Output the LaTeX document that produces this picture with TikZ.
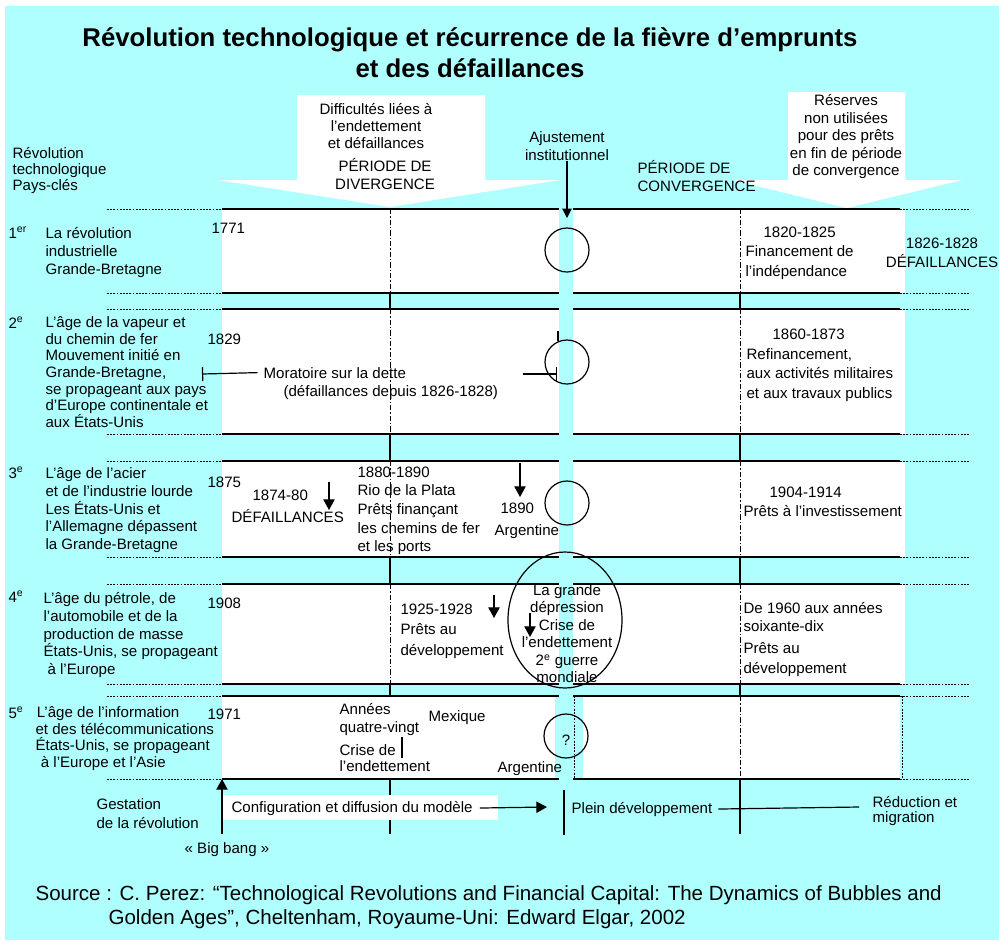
\documentclass[tikz,border=0pt]{standalone}
\usepackage{fontspec}
\setmainfont{Liberation Sans}
\usetikzlibrary{arrows.meta,positioning,calc}
\definecolor{fond}{RGB}{175,255,255}
\tikzset{
  txt/.style={inner sep=0pt,align=left,anchor=north west,font=\fontsize{11.3}{#1}\selectfont},
  txt/.default=13.3,
  ctr/.style={txt=#1,align=center,anchor=north},
  ctr/.default=13.3,
  one/.style={inner sep=0pt,anchor=base west,font=\fontsize{11.3}{13.3}\selectfont},
  fleche/.style={-{Triangle[width=8.5pt,length=8pt]}},
  pointille/.style={dash pattern=on 1.3pt off 1.1pt,line width=0.7pt},
  tiret/.style={dash pattern=on 4pt off 1.6pt on 0.8pt off 1.6pt,line width=0.7pt},
}
\begin{document}
\begin{tikzpicture}[x=0.75pt,y=-0.75pt,line width=0.9pt]
  \def\bande(#1,#2){
    \fill[white] (222,#1) rectangle (559,#2);
    \fill[white] (573,#1) rectangle (905,#2);
    \draw[tiret] (390,#1) -- (390,#2);
    \draw[tiret] (740,#1) -- (740,#2);
  }
  \def\bord(#1){
    \draw[pointille] (107,#1) -- (222,#1);
    \draw (222,#1) -- (559,#1) (573,#1) -- (900,#1);
    \draw[pointille] (900,#1) -- (970,#1);
  }
  \useasboundingbox (0,0) rectangle (999,940);
  \fill[fond] (5,6) rectangle (999,940);
  % grandes fleches du haut
  \fill[white] (297,95) -- (485,95) -- (485,180) -- (560,180) -- (390,207) -- (218,180) -- (297,180) -- cycle;
  \fill[white] (788,92) -- (905,92) -- (905,180) -- (962,180) -- (847,208) -- (732,180) -- (788,180) -- cycle;
  \bande(209,293)
  \bande(309,434)
  \bande(461,557)
  \bande(584,684)
  \fill[white] (222,696) rectangle (555,779);
  \fill[white] (583,696) rectangle (900,779);
  \draw[tiret] (740,696) -- (740,779);
  \draw[pointille] (574,696) -- (574,779) (902,696) -- (902,779);
  \foreach \y in {209,293,309,434,461,557,584,684,696,779} {\bord(\y)}
  \foreach \a/\b in {293/309,434/461,557/584,684/696,779/834} {
    \draw (390,\a) -- (390,\b);
    \draw (740,\a) -- (740,\b);
  }
  % titre et en-tetes
  \node[inner sep=0pt,anchor=base,font=\fontsize{19.3}{23.3}\selectfont\bfseries] (titre1) at (470,46) {Révolution technologique et récurrence de la fièvre d’emprunts};
  \node[inner sep=0pt,anchor=base,font=\fontsize{19.3}{23.3}\selectfont\bfseries] (titre2) at (470,77) {et des défaillances};
  \node[txt=12] (revol) at (12,147) {Révolution\\technologique\\Pays-clés};
  \node[ctr=12.8] (diffic) at (376,103) {Difficultés liées à\\l’endettement\\et défaillances};
  \node[ctr=13.3] (divg) at (385,158) {PÉRIODE DE\\DIVERGENCE};
  \node[ctr=13.5] (ajust) at (567,131) {Ajustement\\institutionnel};
  \draw[-{Triangle[width=7pt,length=7pt]}] (ajust.south) -- (567,218);
  \node[txt=13.5] (convg) at (637,160) {PÉRIODE DE\\CONVERGENCE};
  \node[ctr=13.1] (reserv) at (846,94) {Réserves\\non utilisées\\pour des prêts\\en fin de période\\de convergence};
  % 1re revolution
  \node[one] (r1) at (8,238) {1\textsuperscript{er}};
  \node[txt=13.5] (lab1) at (45,227) {La révolution\\industrielle\\Grande-Bretagne};
  \node[one] (an1) at (211,233) {1771};
  \draw (567,250) circle [radius=22];
  \node[one] (c1a) at (763,237) {1820-1825};
  \node[txt=15] (c1b) at (745,245) {Financement de\\l’indépendance};
  \node[ctr=14.3] (def1) at (942,237) {1826-1828\\DÉFAILLANCES};
  % 2e revolution
  \node[one] (r2) at (8,328) {2\textsuperscript{e}};
  \node[txt=12.5] (lab2) at (45,316) {L’âge de la vapeur et\\du chemin de fer\\Mouvement initié en\\Grande-Bretagne,\\se propageant aux pays\\d’Europe continentale et\\aux États-Unis};
  \node[one] (an2) at (207,344) {1829};
  \node[one] (mor1) at (263,378) {Moratoire sur la dette};
  \node[one] (mor2) at (283,396) {(défaillances depuis 1826-1828)};
  \coordinate (morG) at (202,374);
  \coordinate (morD) at (557,374);
  \draw[{Bar[width=10.5pt]}-] (morG) -- ([xshift=-4pt]mor1.west);
  \draw[-{Bar[width=11pt]}] (523,374) -- (morD);
  \draw (558,331) -- (558,341);
  \draw (567,362) circle [radius=22];
  \node[one] (c2a) at (772,339) {1860-1873};
  \node[txt=14.6] (c2b) at (746,348) {Refinancement,\\aux activités militaires\\et aux travaux publics};
  % 3e revolution
  \node[one] (r3) at (8,478) {3\textsuperscript{e}};
  \node[txt=13.3] (lab3) at (45,467) {L’âge de l’acier\\et de l’industrie lourde\\Les États-Unis et\\l’Allemagne dépassent\\la Grande-Bretagne};
  \node[one] (an3) at (207,487) {1875};
  \node[one] (d3a) at (252,500) {1874-80};
  \node[one] (d3b) at (231,522) {DÉFAILLANCES};
  \draw[fleche] (329,482) -- (329,510);
  \node[txt=14] (rio) at (357,466) {1880-1890\\Rio de la Plata\\Prêts finançant\\les chemins de fer\\et les ports};
  \draw[fleche] (520,463) -- (520,497);
  \node[one] (a3a) at (500,513) {1890};
  \node[one] (a3b) at (494,535) {Argentine};
  \draw (567,503) circle [radius=22];
  \node[one] (c3a) at (769,497) {1904-1914};
  \node[one] (c3b) at (743,516) {Prêts à l’investissement};
  % 4e revolution
  \node[one] (r4) at (8,602) {4\textsuperscript{e}};
  \node[txt=13.3] (lab4) at (43,592) {L’âge du pétrole, de\\l’automobile et de la\\production de masse\\États-Unis, se propageant\\\hspace{3pt}à l’Europe};
  \node[one] (an4) at (207,608) {1908};
  \node[txt=15.4] (p4) at (400,603) {1925-1928\\Prêts au\\développement};
  \draw[fleche] (494,595) -- (494,618);
  \draw (565,620) ellipse [x radius=57, y radius=68];
  \node[ctr=13.1] (crise) at (567,584) {La grande\\dépression\\Crise de\\l’endettement\\2\textsuperscript{e} guerre\\mondiale};
  \draw[fleche] (530,613) -- (530,637);
  \node[txt=13.5] (c4a) at (743,602) {De 1960 aux années\\soixante-dix};
  \node[txt=15] (c4b) at (743,642) {Prêts au\\développement};
  % 5e revolution
  \node[one] (r5) at (8,718) {5\textsuperscript{e}};
  \node[txt=12.4] (lab5) at (35,706) {\hspace{1pt}L’âge de l’information\\et des télécommunications\\États-Unis, se propageant\\\hspace{4pt}à l’Europe et l’Asie};
  \node[one] (an5) at (207,719) {1971};
  \node[txt=13.5] (ann) at (339,703) {Années\\quatre-vingt};
  \node[txt=12] (cr5) at (339,744) {Crise de\\l’endettement};
  \draw (402,737) -- (402,758);
  \node[one] (mex) at (428,721) {Mexique};
  \node[one] (arg5) at (497,772) {Argentine};
  \draw (566,736) circle [radius=22];
  \node[inner sep=0pt,font=\fontsize{11.3}{13}\selectfont] (qm) at (566,740) {?};
  % phases
  \node[txt=14.3] (gest) at (96,798) {Gestation\\de la révolution};
  \fill[white] (222,795) rectangle (498,820);
  \node[one] (config) at (231,812) {Configuration et diffusion du modèle};
  \draw[fleche] ([xshift=5pt]config.east) -- (547,807);
  \draw (564,790) -- (564,835);
  \node[one] (plein) at (571,813) {Plein développement};
  \draw ([xshift=4pt]plein.east) -- (859,807);
  \node[txt=11.3] (reduc) at (872,796) {Réduction et\\migration};
  \node[inner sep=0pt,font=\fontsize{11.3}{13}\selectfont] (bigb) at (227,850) {« Big bang »};
  \draw[fleche] (222,834) -- (222,779);
  % source
  \node[inner sep=0pt,anchor=base west,font=\fontsize{15.4}{18}\selectfont] (src1) at (35,900) {Source : C. Perez: “Technological Revolutions and Financial Capital: The Dynamics of Bubbles and};
  \node[inner sep=0pt,anchor=base west,font=\fontsize{15.4}{18}\selectfont] (src2) at (108,924) {Golden Ages”, Cheltenham, Royaume-Uni: Edward Elgar, 2002};
\end{tikzpicture}
\end{document}
